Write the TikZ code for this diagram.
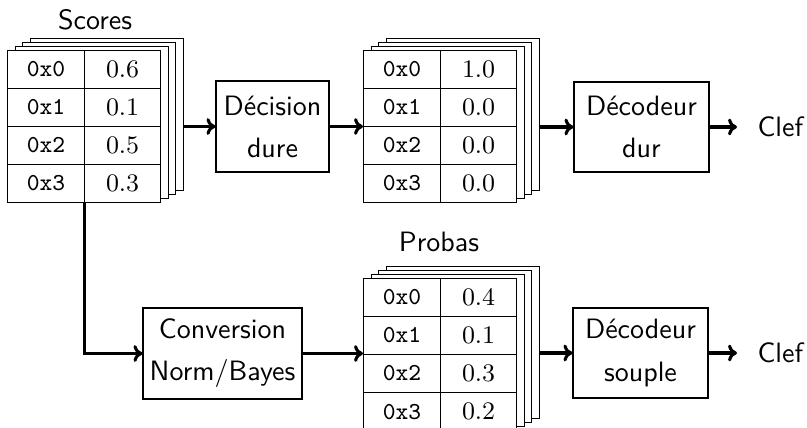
\documentclass[tikz,border=0pt]{standalone}
\usepackage{fontspec}
\usetikzlibrary{arrows.meta}
\def\pxu{0.357pt}
\tikzset{
  layer/.style={draw, fill=white, line width=0.4pt, minimum width=153*\pxu,
    minimum height=152*\pxu, inner sep=0pt, anchor=north west},
  cell/.style={draw, line width=0.4pt, minimum height=38*\pxu, inner sep=0pt,
    anchor=north west, font=\fontsize{8.7}{10}\selectfont},
  keycell/.style={cell, minimum width=77*\pxu},
  valcell/.style={cell, minimum width=76*\pxu},
  block/.style={draw, line width=0.4pt, align=center, inner sep=0pt,
    font=\sffamily\fontsize{10}{15}\selectfont},
  title/.style={font=\sffamily\fontsize{10}{12}\selectfont, inner sep=0pt},
  arr/.style={-{To[length=3.2pt,width=6pt]}, line width=1.1pt},
}
% stacked table: name, x, y (north west corner of the front sheet), four values
\newcommand\stackedtable[7]{%
  \foreach \k in {3,2,1}{
    \node[layer] (#1l\k) at ({#2+7.5*\k},{#3-4*\k}) {};
  }
  \node[layer] (#1) at (#2,#3) {};
  \foreach \r/\v [count=\i from 0] in {0/#4,1/#5,2/#6,3/#7}{
    \node[keycell] (#1k\i) at (#2,{#3+38*\i}) {\texttt{0x\r}};
    \node[valcell] (#1v\i) at ({#2+77},{#3+38*\i}) {$\v$};
  }
}
\begin{document}
\begin{tikzpicture}[x=0.357pt,y=-0.357pt]
  \useasboundingbox (0,0) rectangle (807,428);

  % upper chain: hard decision
  \node[title] (ts) at (95,20) {Scores};
  \stackedtable{T1}{7}{50}{0.6}{0.1}{0.5}{0.3}
  \node[block, minimum width=113*\pxu, minimum height=91*\pxu] (dec) at (272.5,126.5) {Décision\\dure};
  \stackedtable{T2}{363}{50}{1.0}{0.0}{0.0}{0.0}
  \node[block, minimum width=135*\pxu, minimum height=90*\pxu] (dd) at (641.5,127) {Décodeur\\dur};
  \node[title, anchor=west, inner xsep=20*\pxu] (k1) at (737,127) {Clef};

  \draw[arr] (T1l3.east |- dec.west) -- (dec.west);
  \draw[arr] (dec.east) -- (dec.east -| T2.west);
  \draw[arr] (T2l3.east |- dd.west) -- (dd.west);
  \draw[arr] (dd.east) -- (k1.west);

  % lower chain: soft decoding
  \node[block, minimum width=159*\pxu, minimum height=91*\pxu] (conv) at (222.5,353.5) {Conversion\\Norm/Bayes};
  \node[title] (tp) at (439,242) {Probas};
  \stackedtable{T3}{363}{278}{0.4}{0.1}{0.3}{0.2}
  \node[block, minimum width=135*\pxu, minimum height=90*\pxu] (ds) at (640.5,353) {Décodeur\\souple};
  \node[title, anchor=west, inner xsep=20*\pxu] (k2) at (737,353) {Clef};

  \draw[arr] (T1.south) |- (conv.west);
  \draw[arr] (conv.east) -- (conv.east -| T3.west);
  \draw[arr] (T3l3.east |- ds.west) -- (ds.west);
  \draw[arr] (ds.east) -- (k2.west);
\end{tikzpicture}
\end{document}
